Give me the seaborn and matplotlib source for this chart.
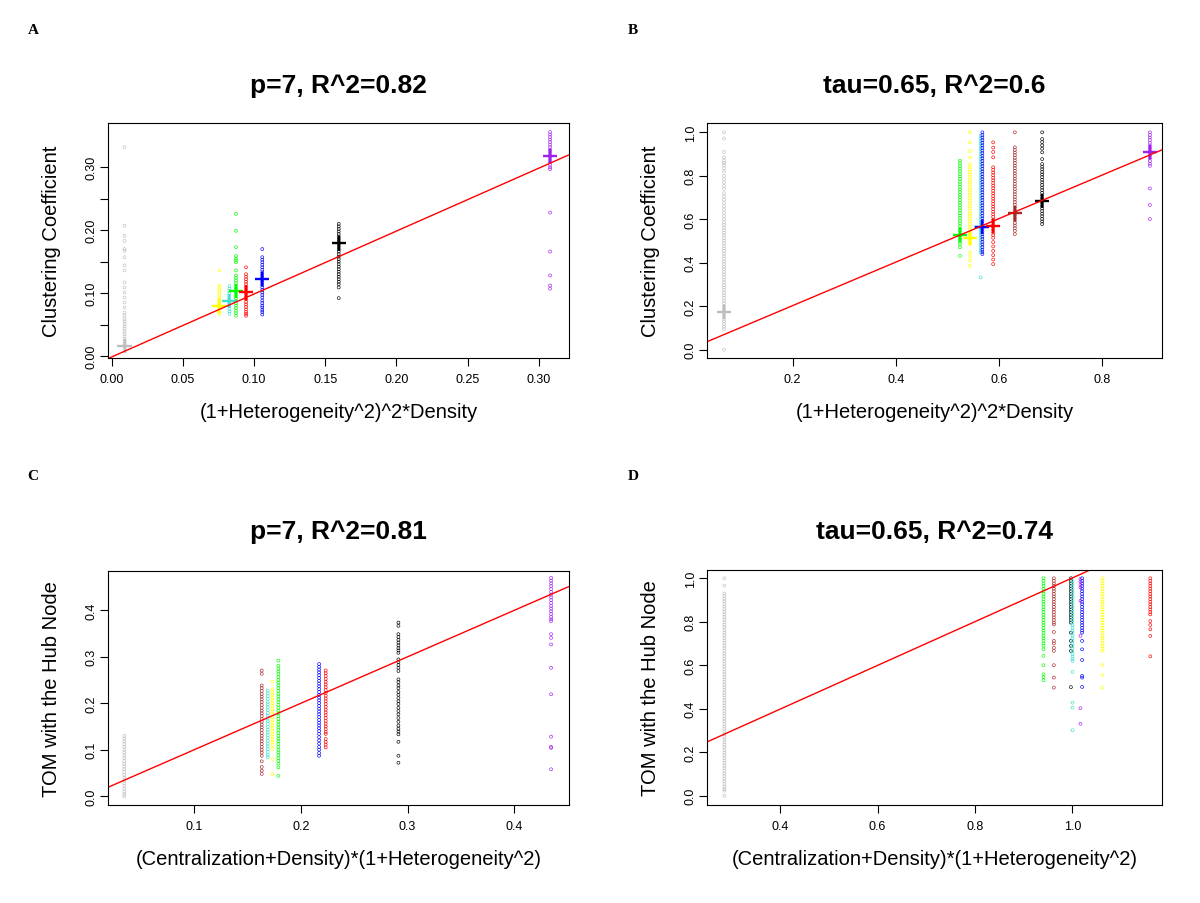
import matplotlib
matplotlib.use("Agg")
import matplotlib.pyplot as plt
import pandas as pd
import seaborn as sns

# module colours (R colour names)
palette = {
    "grey": "#BEBEBE", "yellow": "#FFFF00", "turquoise": "#40E0D0",
    "green": "#00FF00", "red": "#FF0000", "blue": "#0000FF",
    "black": "#000000", "purple": "#A020F0", "brown": "#A52A2A",
}

# ---- panel A ----
a_modules = ["grey", "yellow", "turquoise", "green", "red", "blue", "black", "purple"]
a_x = [0.009, 0.0756, 0.0827, 0.0873, 0.0944, 0.1058, 0.1595, 0.308]
a_mean = [0.016, 0.080, 0.088, 0.103, 0.101, 0.122, 0.179, 0.318]
a_y = [
    [0.332, 0.207, 0.191, 0.183, 0.170, 0.167, 0.157, 0.144, 0.136, 0.117, 0.109,
     0.101, 0.093, 0.085, 0.077, 0.069, 0.064, 0.059, 0.055, 0.051, 0.047, 0.043,
     0.039, 0.035, 0.031, 0.027, 0.023, 0.019, 0.016, 0.012],
    [0.136, 0.112, 0.109, 0.105, 0.101, 0.097, 0.093, 0.089, 0.085, 0.081, 0.077,
     0.073, 0.070, 0.067],
    [0.111, 0.107, 0.103, 0.099, 0.095, 0.091, 0.087, 0.083, 0.079, 0.075, 0.071, 0.067],
    [0.226, 0.199, 0.173, 0.159, 0.155, 0.152, 0.149, 0.136, 0.128, 0.124, 0.120,
     0.116, 0.112, 0.108, 0.104, 0.100, 0.096, 0.092, 0.088, 0.084, 0.080, 0.076,
     0.072, 0.068, 0.064],
    [0.141, 0.130, 0.126, 0.122, 0.118, 0.114, 0.110, 0.106, 0.102, 0.098, 0.094,
     0.090, 0.086, 0.082, 0.078, 0.074, 0.070, 0.067, 0.064],
    [0.170, 0.157, 0.153, 0.149, 0.145, 0.141, 0.137, 0.133, 0.129, 0.125, 0.121,
     0.117, 0.113, 0.109, 0.105, 0.101, 0.097, 0.093, 0.088, 0.084, 0.080, 0.077,
     0.073, 0.070, 0.066],
    [0.210, 0.206, 0.202, 0.198, 0.194, 0.190, 0.186, 0.182, 0.178, 0.174, 0.170,
     0.166, 0.162, 0.158, 0.154, 0.150, 0.146, 0.142, 0.138, 0.134, 0.130, 0.126,
     0.122, 0.118, 0.114, 0.109, 0.092],
    [0.356, 0.352, 0.348, 0.344, 0.340, 0.336, 0.332, 0.328, 0.324, 0.320, 0.316,
     0.312, 0.308, 0.304, 0.300, 0.297, 0.228, 0.166, 0.128, 0.112, 0.107],
]

# ---- panel B ----
b_modules = ["grey", "green", "yellow", "turquoise", "blue", "red", "brown", "black", "purple"]
b_x = [0.0667, 0.5245, 0.544, 0.5647, 0.568, 0.589, 0.631, 0.684, 0.893]
b_mean = [0.175, 0.529, 0.514, 0.563, 0.566, 0.570, 0.627, 0.685, 0.908]
b_y = [
    [1.0, 0.972, 0.91, 0.885, 0.87, 0.86, 0.85, 0.835, 0.82, 0.80, 0.785, 0.77,
     0.754, 0.74, 0.72, 0.705, 0.69, 0.675, 0.66, 0.645, 0.63, 0.615, 0.60,
     0.586, 0.574, 0.562, 0.550, 0.538, 0.526, 0.514, 0.502, 0.490, 0.478, 0.466,
     0.454, 0.442, 0.430, 0.418, 0.406, 0.394, 0.382, 0.370, 0.358, 0.346, 0.334,
     0.322, 0.310, 0.298, 0.286, 0.274, 0.262, 0.250, 0.238, 0.226, 0.214, 0.202,
     0.190, 0.178, 0.166, 0.154, 0.142, 0.130, 0.118, 0.106, 0.095, 0.0],
    [0.869, 0.857, 0.845, 0.833, 0.821, 0.809, 0.797, 0.785, 0.773, 0.761, 0.749,
     0.737, 0.725, 0.713, 0.701, 0.689, 0.677, 0.665, 0.653, 0.641, 0.629, 0.617,
     0.605, 0.593, 0.581, 0.569, 0.557, 0.545, 0.533, 0.521, 0.509, 0.497, 0.485,
     0.471, 0.432],
    [1.0, 0.954, 0.915, 0.885, 0.854, 0.842, 0.830, 0.818, 0.806, 0.794, 0.782,
     0.770, 0.758, 0.746, 0.734, 0.722, 0.710, 0.698, 0.686, 0.674, 0.662, 0.650,
     0.638, 0.626, 0.614, 0.602, 0.590, 0.578, 0.566, 0.554, 0.542, 0.530, 0.518,
     0.506, 0.494, 0.486, 0.448, 0.430, 0.410, 0.386],
    [0.985, 0.973, 0.961, 0.949, 0.937, 0.925, 0.913, 0.901, 0.889, 0.877, 0.865,
     0.853, 0.841, 0.829, 0.817, 0.805, 0.793, 0.781, 0.769, 0.757, 0.745, 0.733,
     0.721, 0.709, 0.697, 0.685, 0.673, 0.661, 0.649, 0.637, 0.625, 0.613, 0.601,
     0.589, 0.577, 0.565, 0.553, 0.541, 0.529, 0.517, 0.505, 0.493, 0.481, 0.469,
     0.457, 0.448, 0.333],
    [1.0, 0.988, 0.976, 0.964, 0.952, 0.940, 0.928, 0.916, 0.904, 0.892, 0.880,
     0.868, 0.856, 0.844, 0.832, 0.820, 0.808, 0.796, 0.784, 0.772, 0.760, 0.748,
     0.736, 0.724, 0.712, 0.700, 0.688, 0.676, 0.664, 0.652, 0.640, 0.628, 0.616,
     0.604, 0.592, 0.580, 0.568, 0.556, 0.544, 0.532, 0.520, 0.508, 0.496, 0.484,
     0.472, 0.460, 0.450, 0.440],
    [0.954, 0.93, 0.91, 0.885, 0.839, 0.827, 0.815, 0.803, 0.791, 0.779, 0.767,
     0.755, 0.743, 0.731, 0.719, 0.707, 0.695, 0.683, 0.671, 0.659, 0.647, 0.635,
     0.623, 0.611, 0.599, 0.587, 0.575, 0.563, 0.551, 0.539, 0.527, 0.515, 0.495,
     0.475, 0.455, 0.435, 0.415, 0.394],
    [1.0, 0.931, 0.919, 0.907, 0.895, 0.883, 0.871, 0.859, 0.847, 0.835, 0.823,
     0.811, 0.799, 0.787, 0.775, 0.763, 0.751, 0.739, 0.727, 0.715, 0.703, 0.691,
     0.679, 0.667, 0.655, 0.643, 0.631, 0.619, 0.607, 0.595, 0.583, 0.571, 0.559,
     0.547, 0.532],
    [1.0, 0.969, 0.955, 0.940, 0.925, 0.908, 0.877, 0.854, 0.842, 0.830, 0.818,
     0.806, 0.794, 0.782, 0.770, 0.758, 0.746, 0.734, 0.722, 0.710, 0.698, 0.686,
     0.674, 0.662, 0.650, 0.638, 0.626, 0.614, 0.602, 0.590, 0.578],
    [1.0, 0.988, 0.976, 0.964, 0.952, 0.940, 0.928, 0.916, 0.904, 0.892, 0.880,
     0.868, 0.856, 0.846, 0.742, 0.666, 0.601],
]

# ---- panel C ----
c_modules = ["grey", "brown", "turquoise", "yellow", "green", "blue", "red", "black", "purple"]
c_x = [0.0343, 0.1632, 0.1688, 0.1732, 0.1788, 0.2170, 0.2232, 0.2914, 0.4346]
c_y = [
    [0.130, 0.124, 0.118, 0.112, 0.106, 0.100, 0.094, 0.088, 0.082, 0.076, 0.070,
     0.064, 0.058, 0.052, 0.046, 0.040, 0.034, 0.028, 0.022, 0.016, 0.010, 0.004, 0.0],
    [0.270, 0.263, 0.238, 0.232, 0.226, 0.220, 0.214, 0.208, 0.202, 0.196, 0.190,
     0.184, 0.178, 0.172, 0.166, 0.160, 0.154, 0.148, 0.142, 0.136, 0.130, 0.124,
     0.118, 0.112, 0.106, 0.100, 0.094, 0.087, 0.075, 0.063, 0.055, 0.048],
    [0.227, 0.221, 0.215, 0.209, 0.203, 0.197, 0.191, 0.185, 0.179, 0.173, 0.167,
     0.161, 0.155, 0.149, 0.143, 0.137, 0.131, 0.125, 0.119, 0.113, 0.107, 0.101,
     0.095, 0.089, 0.084],
    [0.246, 0.230, 0.224, 0.218, 0.212, 0.206, 0.200, 0.194, 0.188, 0.182, 0.176,
     0.170, 0.164, 0.158, 0.152, 0.146, 0.140, 0.134, 0.128, 0.122, 0.116, 0.110,
     0.102, 0.080, 0.048],
    [0.291, 0.280, 0.274, 0.268, 0.262, 0.256, 0.250, 0.244, 0.238, 0.232, 0.226,
     0.220, 0.214, 0.208, 0.202, 0.196, 0.190, 0.184, 0.178, 0.172, 0.166, 0.160,
     0.154, 0.148, 0.142, 0.136, 0.130, 0.124, 0.118, 0.112, 0.106, 0.100, 0.094,
     0.088, 0.082, 0.076, 0.070, 0.062, 0.044],
    [0.284, 0.278, 0.272, 0.266, 0.260, 0.254, 0.248, 0.242, 0.236, 0.230, 0.224,
     0.218, 0.212, 0.206, 0.200, 0.194, 0.188, 0.182, 0.176, 0.170, 0.164, 0.158,
     0.152, 0.146, 0.140, 0.134, 0.127, 0.120, 0.113, 0.106, 0.100, 0.093, 0.087],
    [0.270, 0.264, 0.258, 0.252, 0.246, 0.240, 0.234, 0.228, 0.222, 0.216, 0.210,
     0.204, 0.198, 0.192, 0.186, 0.180, 0.174, 0.168, 0.162, 0.156, 0.150, 0.144,
     0.138, 0.134, 0.123, 0.117, 0.111, 0.105],
    [0.373, 0.366, 0.348, 0.342, 0.336, 0.330, 0.324, 0.318, 0.313, 0.308, 0.294,
     0.288, 0.282, 0.276, 0.269, 0.251, 0.245, 0.238, 0.232, 0.224, 0.218, 0.211,
     0.204, 0.198, 0.190, 0.183, 0.176, 0.168, 0.160, 0.152, 0.145, 0.139, 0.133,
     0.117, 0.087, 0.072],
    [0.469, 0.463, 0.457, 0.451, 0.445, 0.439, 0.433, 0.427, 0.421, 0.415, 0.409,
     0.403, 0.397, 0.391, 0.385, 0.380, 0.376, 0.348, 0.340, 0.326, 0.276, 0.219,
     0.128, 0.106, 0.104, 0.058],
]

# ---- panel D ----
d_modules = ["grey", "green", "brown", "black", "turquoise", "blue", "purple", "yellow", "red"]
d_x = [0.2857, 0.9407, 0.962, 0.997, 1.0003, 1.020, 1.0166, 1.0618, 1.160]
d_y = [
    [1.0, 0.966, 0.930, 0.918, 0.906, 0.894, 0.882, 0.870, 0.858, 0.846, 0.834,
     0.822, 0.810, 0.798, 0.786, 0.774, 0.762, 0.750, 0.738, 0.726, 0.714, 0.702,
     0.690, 0.678, 0.666, 0.654, 0.642, 0.630, 0.618, 0.606, 0.594, 0.582, 0.570,
     0.558, 0.546, 0.534, 0.522, 0.510, 0.498, 0.486, 0.474, 0.462, 0.450, 0.438,
     0.426, 0.414, 0.402, 0.390, 0.378, 0.366, 0.354, 0.342, 0.330, 0.318, 0.306,
     0.294, 0.282, 0.270, 0.258, 0.246, 0.234, 0.222, 0.210, 0.198, 0.186, 0.174,
     0.162, 0.150, 0.138, 0.126, 0.114, 0.102, 0.090, 0.078, 0.066, 0.054, 0.042,
     0.030, 0.023, 0.0],
    [1.0, 0.988, 0.976, 0.964, 0.952, 0.940, 0.928, 0.916, 0.904, 0.892, 0.880,
     0.868, 0.856, 0.844, 0.832, 0.820, 0.808, 0.796, 0.784, 0.772, 0.760, 0.748,
     0.736, 0.724, 0.712, 0.700, 0.688, 0.673, 0.643, 0.600, 0.558, 0.545, 0.531],
    [1.0, 0.988, 0.976, 0.964, 0.952, 0.940, 0.928, 0.916, 0.904, 0.892, 0.880,
     0.868, 0.856, 0.844, 0.832, 0.820, 0.808, 0.796, 0.787, 0.753, 0.712, 0.700,
     0.680, 0.666, 0.600, 0.543, 0.497],
    [1.0, 0.988, 0.976, 0.964, 0.952, 0.940, 0.928, 0.916, 0.904, 0.892, 0.880,
     0.868, 0.856, 0.844, 0.832, 0.820, 0.808, 0.796, 0.750, 0.712, 0.689, 0.666, 0.499],
    [0.988, 0.976, 0.964, 0.952, 0.940, 0.928, 0.916, 0.904, 0.892, 0.880, 0.868,
     0.856, 0.844, 0.832, 0.820, 0.808, 0.796, 0.784, 0.772, 0.760, 0.748, 0.736,
     0.724, 0.712, 0.700, 0.688, 0.676, 0.664, 0.652, 0.640, 0.628, 0.620, 0.569,
     0.428, 0.405, 0.301],
    [1.0, 0.988, 0.976, 0.964, 0.952, 0.940, 0.928, 0.916, 0.904, 0.892, 0.880,
     0.868, 0.856, 0.844, 0.832, 0.820, 0.808, 0.796, 0.784, 0.772, 0.760, 0.750,
     0.712, 0.673, 0.624, 0.551, 0.543, 0.500],
    [0.997, 0.985, 0.970, 0.957, 0.896, 0.735, 0.402, 0.331],
    [1.0, 0.988, 0.976, 0.964, 0.952, 0.940, 0.928, 0.916, 0.904, 0.892, 0.880,
     0.868, 0.856, 0.844, 0.832, 0.820, 0.808, 0.796, 0.784, 0.772, 0.760, 0.748,
     0.736, 0.724, 0.712, 0.700, 0.688, 0.676, 0.666, 0.600, 0.555, 0.497],
    [1.0, 0.988, 0.976, 0.964, 0.952, 0.940, 0.928, 0.916, 0.904, 0.892, 0.880,
     0.868, 0.856, 0.844, 0.834, 0.803, 0.785, 0.765, 0.735, 0.641],
]

# fitted lines (slope, intercept)
a_fit = (1.0, -0.0015)
b_fit = (1.0, 0.003)
c_fit = (0.997, 0.0004)
d_fit = (1.006, -0.0045)


def long_table(modules, xs, ys):
    rows = []
    for m, x, vals in zip(modules, xs, ys):
        for v in vals:
            rows.append({"module": m, "x": x, "y": v})
    return pd.DataFrame(rows)


def draw_panel(ax, modules, xs, ys, fit, means=None):
    df = long_table(modules, xs, ys)
    n0 = len(ax.collections)
    sns.scatterplot(data=df, x="x", y="y", hue="module", hue_order=modules,
                    palette=palette, s=4.5, linewidth=0.45, legend=False, ax=ax)
    # open circles like R's pch=1
    pts = ax.collections[n0]
    fc = pts.get_facecolors()
    pts.set_edgecolors(fc)
    pts.set_facecolors("none")
    pts.set_linewidths(0.45)

    slope, icpt = fit
    ax.axline((0, icpt), slope=slope, color="#FF0000", lw=1.0)

    if means is not None:
        mdf = pd.DataFrame({"module": modules, "x": xs, "y": means})
        n1 = len(ax.collections)
        sns.scatterplot(data=mdf, x="x", y="y", hue="module", hue_order=modules,
                        palette=palette, marker="+", s=105, legend=False, ax=ax)
        cr = ax.collections[n1]
        cr.set_edgecolors(cr.get_facecolors())
        cr.set_linewidths(1.7)


sns.set_style("ticks")
plt.rcParams["font.family"] = ["Liberation Sans", "DejaVu Sans"]
for key in ["text.color", "axes.labelcolor", "xtick.color", "ytick.color"]:
    plt.rcParams[key] = "black"

fig = plt.figure(figsize=(12, 9.04), dpi=100)
W, H = 1200, 904


def make_axes(l, r, t, b):
    return fig.add_axes([l / W, 1 - b / H, (r - l) / W, (b - t) / H])


axA = make_axes(108, 569, 124, 359)
axB = make_axes(707, 1162, 124, 359)
axC = make_axes(108, 569, 572, 806)
axD = make_axes(707, 1162, 571, 806)

draw_panel(axA, a_modules, a_x, a_y, a_fit, a_mean)
draw_panel(axB, b_modules, b_x, b_y, b_fit, b_mean)
draw_panel(axC, c_modules, c_x, c_y, c_fit)
draw_panel(axD, d_modules, d_x, d_y, d_fit)

axA.set_xlim(-0.0026, 0.3213)
axA.set_ylim(-0.0032, 0.3704)
axB.set_xlim(0.0338, 0.9165)
axB.set_ylim(-0.038, 1.043)
axC.set_xlim(0.019, 0.4514)
axC.set_ylim(-0.0187, 0.4837)
axD.set_xlim(0.250, 1.184)
axD.set_ylim(-0.043, 1.038)

ticks = {
    axA: ([0.0, 0.05, 0.10, 0.15, 0.20, 0.25, 0.30],
          ["0.00", "0.05", "0.10", "0.15", "0.20", "0.25", "0.30"],
          [0.0, 0.05, 0.10, 0.15, 0.20, 0.25, 0.30],
          ["0.00", "", "0.10", "", "0.20", "", "0.30"]),
    axB: ([0.2, 0.4, 0.6, 0.8], ["0.2", "0.4", "0.6", "0.8"],
          [0.0, 0.2, 0.4, 0.6, 0.8, 1.0], ["0.0", "0.2", "0.4", "0.6", "0.8", "1.0"]),
    axC: ([0.1, 0.2, 0.3, 0.4], ["0.1", "0.2", "0.3", "0.4"],
          [0.0, 0.1, 0.2, 0.3, 0.4], ["0.0", "0.1", "0.2", "0.3", "0.4"]),
    axD: ([0.4, 0.6, 0.8, 1.0], ["0.4", "0.6", "0.8", "1.0"],
          [0.0, 0.2, 0.4, 0.6, 0.8, 1.0], ["0.0", "0.2", "0.4", "0.6", "0.8", "1.0"]),
}

xlabels = {axA: "(1+Heterogeneity^2)^2*Density", axB: "(1+Heterogeneity^2)^2*Density",
           axC: "(Centralization+Density)*(1+Heterogeneity^2)",
           axD: "(Centralization+Density)*(1+Heterogeneity^2)"}
ylabels = {axA: "Clustering Coefficient", axB: "Clustering Coefficient",
           axC: "TOM with the Hub Node", axD: "TOM with the Hub Node"}

for ax, (xt, xl, yt, yl) in ticks.items():
    ax.set_xticks(xt)
    ax.set_xticklabels(xl, fontsize=9)
    ax.set_yticks(yt)
    ax.set_yticklabels(yl, fontsize=9, rotation=90, va="center")
    ax.tick_params(length=6, width=0.8, color="black")
    ax.tick_params(axis="x", pad=5)
    ax.tick_params(axis="y", pad=1.5)
    ax.set_xlabel(xlabels[ax], fontsize=14.5, labelpad=12)
    ax.set_ylabel(ylabels[ax], fontsize=14.5, labelpad=18)
    for sp in ax.spines.values():
        sp.set_visible(True)
        sp.set_color("black")
        sp.set_linewidth(0.8)

titles = [("p=7, R^2=0.82", 338, 86), ("tau=0.65, R^2=0.6", 934, 86),
          ("p=7, R^2=0.81", 338, 532), ("tau=0.65, R^2=0.74", 934, 532)]
for txt, px, py in titles:
    fig.text(px / W, 1 - py / H, txt, ha="center", va="center",
             fontsize=19, fontweight="bold")

for lab, px, py in [("A", 33, 30), ("B", 633, 30), ("C", 33, 476), ("D", 633, 476)]:
    fig.text(px / W, 1 - py / H, lab, ha="center", va="center", fontsize=11,
             fontweight="bold", family=["Liberation Serif", "DejaVu Serif"])

fig.savefig("out.png", dpi=100)
